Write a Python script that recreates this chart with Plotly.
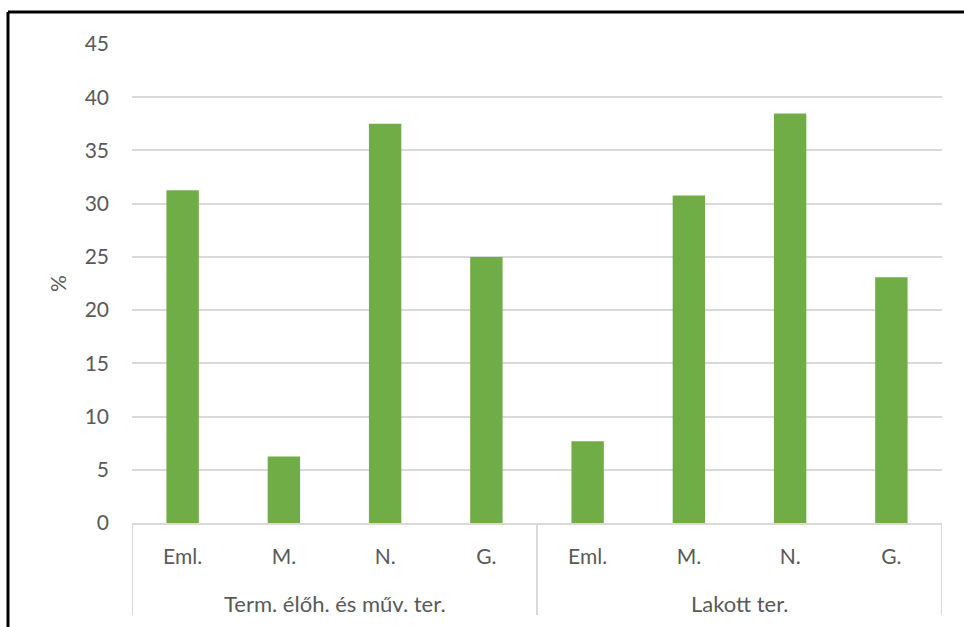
import plotly.graph_objects as go

group_names = ["Term. élőh. és műv. ter.", "Lakott ter."]
group_sizes = [4, 4]
cats = ["Eml.", "M.", "N.", "G.", "Eml.", "M.", "N.", "G."]
values = [31.25, 6.25, 37.5, 25.0, 7.69, 30.77, 38.46, 23.08]
yticks = [0, 5, 10, 15, 20, 25, 30, 35, 40, 45]

font_family = "Lato, Open Sans, sans-serif"
txt = "#595959"
fs = 21
grid = "#d9d9d9"

xpos = list(range(len(cats)))
fig = go.Figure(go.Bar(x=xpos, y=values, marker=dict(color="#70ad47", line=dict(width=0))))

H = 479.0  # plot height in px
shapes = []
annotations = []
bounds = [-0.5]
for s in group_sizes:
    bounds.append(bounds[-1] + s)
for b in bounds:
    shapes.append(dict(type="line", xref="x", yref="paper", x0=b, x1=b, y0=0, y1=-92 / H,
                       line=dict(color=grid, width=2)))
for i, name in enumerate(group_names):
    annotations.append(dict(x=(bounds[i] + bounds[i + 1]) / 2, y=-80 / H, xref="x", yref="paper",
                            text=name, showarrow=False, font=dict(size=22, color=txt),
                            xanchor="center", yanchor="middle"))

shapes += [
    dict(type="line", xref="paper", yref="paper", x0=(8 - 132) / 810, x1=(966 - 132) / 810,
         y0=(523 - 12) / H, y1=(523 - 12) / H, line=dict(color="black", width=3)),
    dict(type="line", xref="paper", yref="paper", x0=(8 - 132) / 810, x1=(8 - 132) / 810,
         y0=(523 - 12) / H, y1=(523 - 630) / H, line=dict(color="black", width=3)),
]

fig.update_layout(
    width=964, height=627,
    margin=dict(l=132, r=22, t=44, b=104),
    paper_bgcolor="white", plot_bgcolor="white",
    bargap=0.68,
    showlegend=False,
    font=dict(family=font_family, size=fs, color=txt),
    xaxis=dict(range=[-0.5, len(cats) - 0.5], tickvals=xpos, ticktext=cats,
               showline=True, linecolor=grid, linewidth=2, ticks="", showgrid=False,
               zeroline=False, tickfont=dict(size=fs, color=txt), ticklabelstandoff=14),
    yaxis=dict(range=[0, 45], tickvals=yticks, showgrid=True, gridcolor=grid, gridwidth=2,
               zeroline=False, showline=False, ticks="", tickfont=dict(size=fs, color=txt),
               ticklabelstandoff=22,
               title=dict(text="%", font=dict(size=fs, color=txt), standoff=12)),
    shapes=shapes,
    annotations=annotations,
)

fig.write_html("out.html")
